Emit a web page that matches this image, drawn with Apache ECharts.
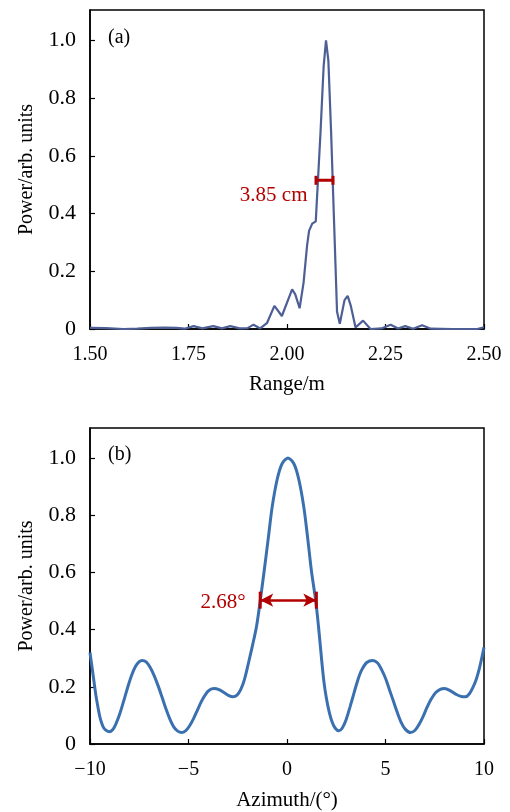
<!DOCTYPE html>
<html>
<head>
<meta charset="utf-8">
<script src="https://cdn.jsdelivr.net/npm/echarts@6/dist/echarts.min.js"></script>
<style>html,body{margin:0;padding:0;background:#fff;}#c{width:510px;height:812px;}</style>
</head>
<body>
<div id="c"></div>
<script>
// ---- Panel (a): range profile ----
const rangeM = [1.50,1.54,1.585,1.62,1.655,1.69,1.72,1.74,1.763,1.785,1.813,1.835,1.856,1.88,1.90,1.915,1.932,1.949,1.968,1.987,2.013,2.021,2.032,2.042,2.051,2.056,2.064,2.073,2.085,2.093,2.099,2.105,2.112,2.119,2.127,2.134,2.146,2.154,2.162,2.174,2.193,2.212,2.24,2.263,2.282,2.30,2.32,2.343,2.365,2.42,2.483,2.50];
const powerA = [0.004,0.003,0.0,0.001,0.004,0.005,0.004,0.001,0.010,0.002,0.010,0.002,0.010,0.002,0.003,0.015,0.002,0.020,0.080,0.045,0.137,0.120,0.072,0.160,0.290,0.340,0.365,0.373,0.680,0.910,1.000,0.930,0.680,0.390,0.060,0.018,0.100,0.115,0.080,0.005,0.029,0.0,0.002,0.015,0.002,0.010,0.001,0.013,0.001,0.0,0.0,0.006];
const rangeTicks = [1.50, 1.75, 2.00, 2.25, 2.50];
const fwhmA = [2.0736, 2.1168];
const fwhmAY = 0.515;
const fwhmALabel = '3.85 cm';

// ---- Panel (b): azimuth profile ----
const azimuthDeg = [-10,-9.9,-9.8,-9.7,-9.6,-9.5,-9.4,-9.3,-9.15,-9.02,-8.85,-8.7,-8.5,-8.3,-8.1,-7.9,-7.7,-7.5,-7.35,-7.15,-6.95,-6.75,-6.55,-6.35,-6.15,-5.95,-5.75,-5.55,-5.34,-5.15,-4.95,-4.75,-4.55,-4.35,-4.15,-3.95,-3.7,-3.45,-3.2,-2.95,-2.75,-2.55,-2.35,-2.15,-1.95,-1.75,-1.55,-1.36,-1.15,-0.95,-0.75,-0.5,-0.25,0.05,0.35,0.6,0.85,1.05,1.25,1.46,1.6,1.75,1.87,2.0,2.15,2.3,2.45,2.63,2.8,3.0,3.2,3.4,3.6,3.8,4.05,4.35,4.6,4.8,5.0,5.2,5.4,5.6,5.8,6.0,6.27,6.5,6.7,6.9,7.1,7.3,7.55,7.8,8.0,8.3,8.6,8.85,9.05,9.25,9.45,9.6,9.75,9.9,10];
const powerB = [0.32,0.27,0.22,0.17,0.13,0.095,0.072,0.056,0.046,0.043,0.05,0.068,0.103,0.148,0.195,0.238,0.27,0.288,0.292,0.287,0.268,0.24,0.205,0.165,0.124,0.088,0.06,0.045,0.040,0.046,0.063,0.088,0.118,0.148,0.172,0.188,0.194,0.19,0.18,0.169,0.165,0.17,0.19,0.228,0.285,0.345,0.41,0.50,0.61,0.72,0.83,0.925,0.98,1.0,0.98,0.925,0.83,0.72,0.60,0.50,0.41,0.30,0.22,0.16,0.11,0.075,0.055,0.046,0.055,0.085,0.13,0.178,0.225,0.26,0.285,0.292,0.283,0.26,0.23,0.19,0.15,0.11,0.075,0.052,0.040,0.048,0.068,0.095,0.127,0.155,0.18,0.192,0.194,0.186,0.173,0.166,0.165,0.175,0.2,0.225,0.26,0.305,0.338];
const azimuthTicks = [-10, -5, 0, 5, 10];
const fwhmB = [-1.36, 1.49];
const fwhmBY = 0.503;
const fwhmBLabel = '2.68°';

const powerTicks = [0, 0.2, 0.4, 0.6, 0.8, 1.0];

const FONT = "'Liberation Serif','Times New Roman',serif";
const RED = '#b30000';
const zip = (xs, ys) => xs.map((x, i) => [x, ys[i]]);

function yAxis(gi) {
  return {
    type: 'value', gridIndex: gi, min: 0, max: 1.105, interval: 0.2,
    name: 'Power/arb. units', nameLocation: 'middle', nameGap: 53,
    nameTextStyle: { fontFamily: FONT, fontSize: 20, color: '#000' },
    axisLine: { show: true, onZero: false, lineStyle: { color: '#000', width: 1.5 } },
    axisTick: { show: true, inside: true, length: 5, lineStyle: { color: '#000', width: 1.2 } },
    splitLine: { show: false },
    axisLabel: { fontFamily: FONT, fontSize: 22, color: '#000', margin: 14, showMaxLabel: false,
      formatter: v => (Math.abs(v) < 1e-9 ? '0' : (powerTicks.some(t => Math.abs(t - v) < 1e-6) ? v.toFixed(1) : '')) }
  };
}

const chart = echarts.init(document.getElementById('c'), null, { renderer: 'canvas' });
chart.setOption({
  animation: false,
  backgroundColor: '#fff',
  grid: [
    { left: 90, top: 10, width: 394, height: 319, show: true, borderColor: '#000', borderWidth: 1.5, backgroundColor: 'transparent' },
    { left: 90, top: 428, width: 394, height: 320, show: true, borderColor: '#000', borderWidth: 1.5, backgroundColor: 'transparent' }
  ],
  xAxis: [
    { type: 'value', gridIndex: 0, min: rangeTicks[0], max: rangeTicks[rangeTicks.length - 1], interval: 0.25,
      name: 'Range/m', nameLocation: 'middle', nameGap: 45,
      nameTextStyle: { fontFamily: FONT, fontSize: 21, color: '#000' },
      axisLine: { show: true, onZero: false, lineStyle: { color: '#000', width: 1.5 } },
      axisTick: { show: true, inside: true, length: 5, lineStyle: { color: '#000', width: 1.2 } },
      splitLine: { show: false },
      axisLabel: { fontFamily: FONT, fontSize: 20, color: '#000', margin: 16, formatter: v => v.toFixed(2) } },
    { type: 'value', gridIndex: 1, min: azimuthTicks[0], max: azimuthTicks[azimuthTicks.length - 1], interval: 5,
      name: 'Azimuth/(°)', nameLocation: 'middle', nameGap: 46,
      nameTextStyle: { fontFamily: FONT, fontSize: 21, color: '#000' },
      axisLine: { show: true, onZero: false, lineStyle: { color: '#000', width: 1.5 } },
      axisTick: { show: true, inside: true, length: 5, lineStyle: { color: '#000', width: 1.2 } },
      splitLine: { show: false },
      axisLabel: { fontFamily: FONT, fontSize: 20, color: '#000', margin: 16, formatter: v => (v < 0 ? '\u2212' + Math.abs(v) : String(v)) } }
  ],
  yAxis: [yAxis(0), yAxis(1)],
  graphic: [
    { type: 'text', left: 108, top: 28, style: { text: '(a)', font: '20px ' + FONT, fill: '#000' } },
    { type: 'text', left: 108, top: 445, style: { text: '(b)', font: '20px ' + FONT, fill: '#000' } }
  ],
  series: [
    { type: 'line', xAxisIndex: 0, yAxisIndex: 0, data: zip(rangeM, powerA), showSymbol: false, smooth: false,
      lineStyle: { color: '#4d5f95', width: 2.2 }, silent: true },
    { type: 'line', xAxisIndex: 0, yAxisIndex: 0, silent: true,
      data: [
        { value: [fwhmA[0], fwhmAY], label: { show: true, position: 'left', distance: 8, offset: [1, 15], formatter: fwhmALabel, fontFamily: FONT, fontSize: 21, color: RED } },
        { value: [fwhmA[1], fwhmAY] }
      ],
      symbol: 'rect', symbolSize: [3, 9], itemStyle: { color: RED },
      lineStyle: { color: RED, width: 3 } },
    { type: 'line', xAxisIndex: 1, yAxisIndex: 1, data: zip(azimuthDeg, powerB), showSymbol: false, smooth: 0.3,
      lineStyle: { color: '#3a70b0', width: 3 }, silent: true },
    { type: 'line', xAxisIndex: 1, yAxisIndex: 1, silent: true,
      data: [
        { value: [fwhmB[0], fwhmBY], label: { show: true, position: 'left', distance: 13, offset: [0, 2], formatter: fwhmBLabel, fontFamily: FONT, fontSize: 21, color: RED } },
        { value: [fwhmB[1], fwhmBY] }
      ],
      symbol: 'rect', symbolSize: [3, 17], itemStyle: { color: RED },
      lineStyle: { opacity: 0 },
      markLine: { silent: true, symbol: ['arrow', 'arrow'], symbolSize: [10, 13],
        lineStyle: { color: RED, width: 2.5, type: 'solid' }, label: { show: false },
        data: [[{ coord: [fwhmB[0], fwhmBY] }, { coord: [fwhmB[1], fwhmBY] }]] } }
  ]
});
</script>
</body>
</html>
